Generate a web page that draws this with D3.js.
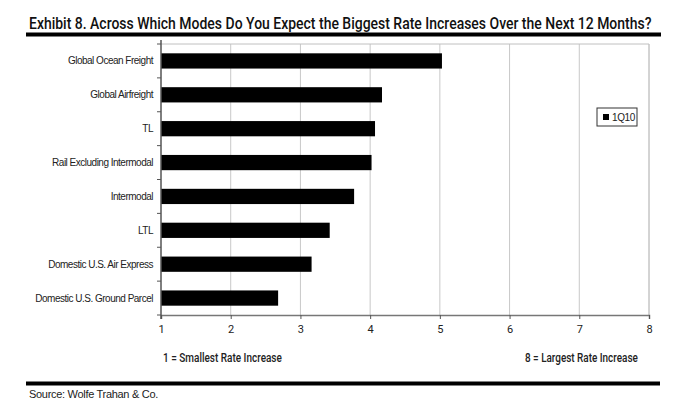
<!DOCTYPE html>
<html>
<head>
<meta charset="utf-8">
<script src="https://cdn.jsdelivr.net/npm/d3@7"></script>
<style>
  body { margin: 0; background: #fff; }
  svg { display: block; }
  .narrow { font-family: Roboto, "DejaVu Sans Condensed", sans-serif; }
  .lbl { font-family: "Liberation Sans", Arial, sans-serif; }
</style>
</head>
<body>
<svg id="chart" width="700" height="413"></svg>
<script>
// data
const modes = ["Global Ocean Freight", "Global Airfreight", "TL", "Rail Excluding Intermodal",
               "Intermodal", "LTL", "Domestic U.S. Air Express", "Domestic U.S. Ground Parcel"];
const values1Q10 = [5.03, 4.17, 4.07, 4.02, 3.77, 3.42, 3.16, 2.68];
const xTicks = [1, 2, 3, 4, 5, 6, 7, 8];
const seriesName = "1Q10";

const svg = d3.select("#chart");

let plotLeft = 161, plotRight = 649, plotTop = 44, plotBottom = 315;

let x = d3.scaleLinear().domain([1, 8]).range([plotLeft, plotRight]);
let y = d3.scaleBand().domain(modes).range([plotTop, plotBottom]).paddingInner(0.55).paddingOuter(0.275);

// squeeze a text horizontally to a given width (condensed look)
function squeeze(sel, px, py, w) {
  let len = sel.node().getComputedTextLength();
  sel.attr("transform", `translate(${px},${py}) scale(${w / len},1)`);
}

// title
let title = svg.append("text")
   .attr("class", "narrow")
   .style("font-size", "16.5px")
   .style("font-weight", "500")
   .style("fill", "#111")
   .text("Exhibit 8. Across Which Modes Do You Expect the Biggest Rate Increases Over the Next 12 Months?");
squeeze(title, 29, 28.5, 623);

svg.append("rect").attr("x", 26).attr("y", 32.5).attr("width", 635).attr("height", 4).style("fill", "#000");

// gridlines
svg.append("g").selectAll("line")
   .data(xTicks.slice(1))
   .enter().append("line")
   .attr("x1", d => x(d)).attr("x2", d => x(d))
   .attr("y1", plotTop).attr("y2", plotBottom)
   .attr("stroke", (d) => d == 8 ? "#a8a8a8" : "#c8c8c8")
   .attr("stroke-width", 1);

// top border
svg.append("line")
   .attr("x1", plotLeft).attr("x2", plotRight)
   .attr("y1", plotTop).attr("y2", plotTop)
   .attr("stroke", "#c0c0c0");

// bars
svg.append("g").selectAll("rect")
   .data(modes)
   .enter().append("rect")
   .attr("x", x(1))
   .attr("y", d => y(d))
   .attr("height", y.bandwidth())
   .attr("width", (d, i) => x(values1Q10[i]) - x(1))
   .style("fill", "#000");

// x axis
let xAxis = svg.append("g")
   .attr("transform", `translate(0,${plotBottom})`)
   .call(d3.axisBottom(x).tickValues(xTicks).tickSize(4).tickFormat(d3.format("d")));
xAxis.select(".domain").attr("stroke", "#777").attr("stroke-width", 1.5);
xAxis.selectAll(".tick line").attr("stroke", "#555");
xAxis.selectAll(".tick text")
   .attr("class", "narrow")
   .attr("y", 10)
   .style("font-size", "11px")
   .style("fill", "#222");

// y axis (category boundaries)
let step = y.step();
let yAxis = svg.append("g").attr("transform", `translate(${plotLeft},0)`);
yAxis.append("line")
   .attr("x1", 0).attr("x2", 0).attr("y1", plotTop - 4).attr("y2", plotBottom + 4)
   .attr("stroke", "#555").attr("stroke-width", 1.5);
yAxis.selectAll("line.tk")
   .data(d3.range(modes.length + 1))
   .enter().append("line")
   .attr("class", "tk")
   .attr("x1", -4).attr("x2", 0)
   .attr("y1", i => plotTop + i * step).attr("y2", i => plotTop + i * step)
   .attr("stroke", "#555");

svg.append("g").selectAll("text")
   .data(modes)
   .enter().append("text")
   .attr("class", "lbl")
   .attr("x", 153)
   .attr("y", d => y(d) + y.bandwidth() / 2)
   .attr("dy", "0.35em")
   .attr("text-anchor", "end")
   .style("font-size", "10px")
   .style("letter-spacing", "-0.5px")
   .style("fill", "#222")
   .text(d => d);

// legend
let lg = svg.append("g").attr("transform", "translate(597,108)");
lg.append("rect").attr("width", 40).attr("height", 18)
   .style("fill", "#fff").style("stroke", "#333").style("stroke-width", 1);
lg.append("rect").attr("x", 6).attr("y", 6).attr("width", 6).attr("height", 6).style("fill", "#000");
lg.append("text").attr("class", "lbl")
   .attr("x", 15).attr("y", 13)
   .style("font-size", "10px")
   .style("letter-spacing", "-0.4px")
   .style("fill", "#222")
   .text(seriesName);

// scale notes
let noteL = svg.append("text").attr("class", "narrow")
   .style("font-size", "12px").style("font-weight", "500").style("fill", "#222")
   .text("1 = Smallest Rate Increase");
squeeze(noteL, 163, 362, 119);
let noteR = svg.append("text").attr("class", "narrow")
   .style("font-size", "12px").style("font-weight", "500").style("fill", "#222")
   .text("8 = Largest Rate Increase");
squeeze(noteR, 525, 362, 113);

// bottom rule + source
svg.append("rect").attr("x", 26).attr("y", 381.5).attr("width", 634).attr("height", 4).style("fill", "#000");
svg.append("text").attr("class", "lbl")
   .attr("x", 29).attr("y", 398)
   .style("font-size", "11px")
   .style("letter-spacing", "-0.3px")
   .style("fill", "#222")
   .text("Source: Wolfe Trahan & Co.");
</script>
</body>
</html>
